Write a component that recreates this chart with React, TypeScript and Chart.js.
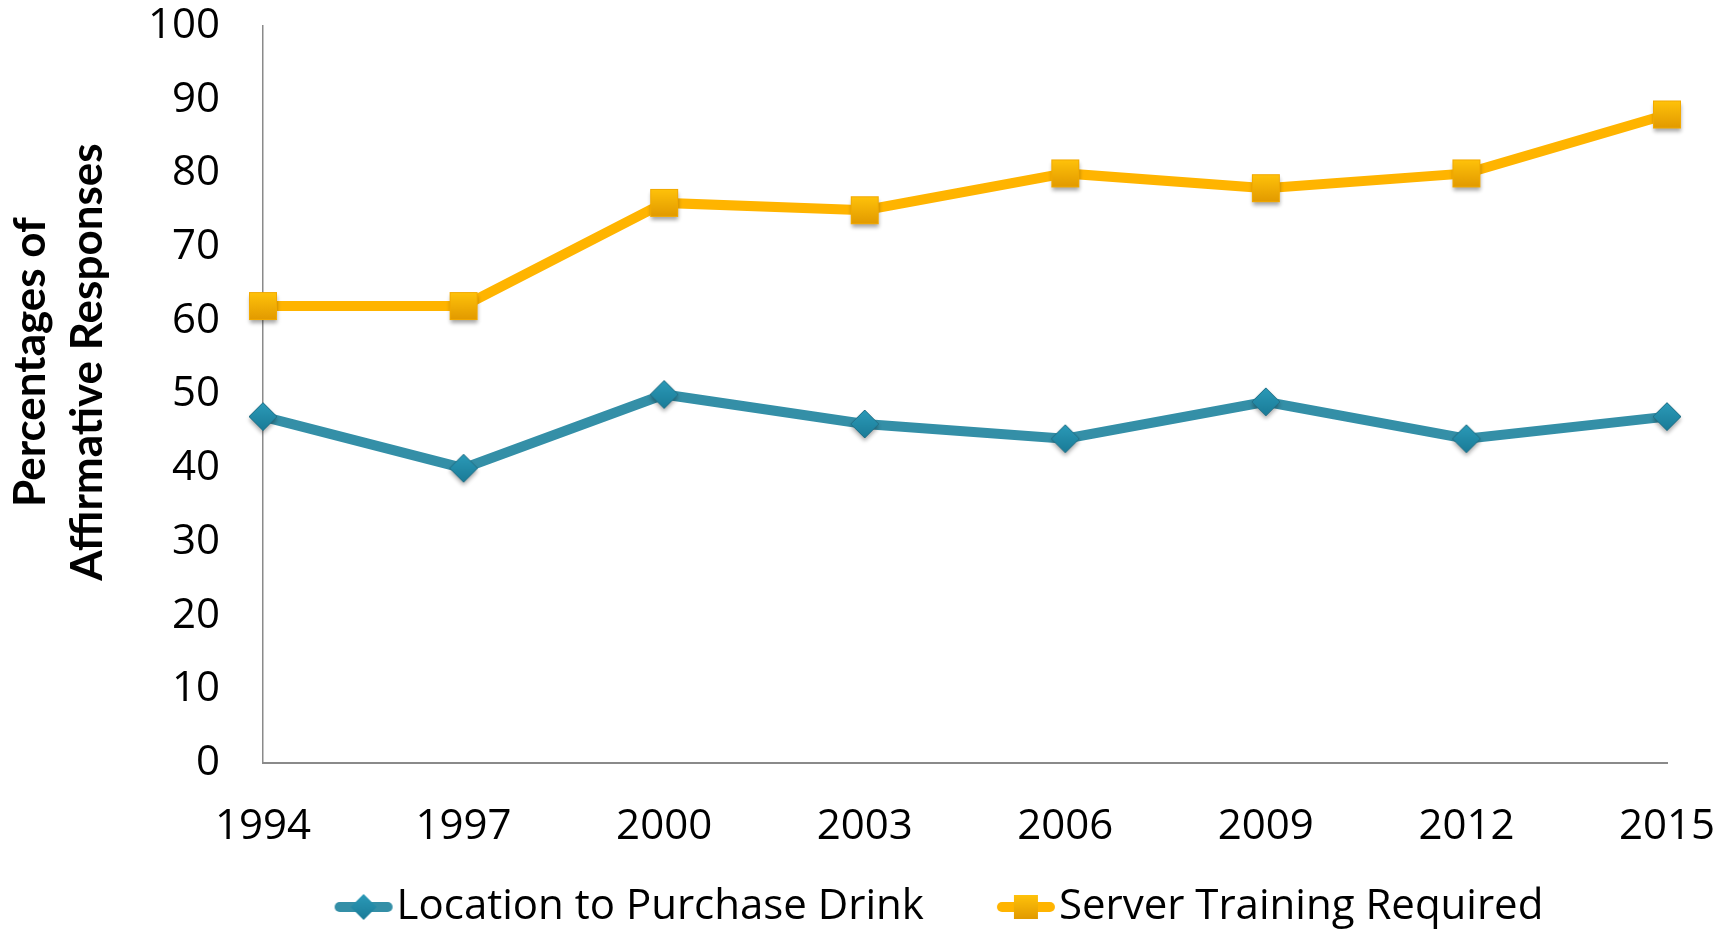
import React, { useEffect, useRef } from "react";
import { Chart, registerables } from "chart.js";

Chart.register(...registerables);

// ---- data ----
const years = ["1994", "1997", "2000", "2003", "2006", "2009", "2012", "2015"];
const locationValues = [47, 40, 50, 46, 44, 49, 44, 47];
const serverValues = [62, 62, 76, 75, 80, 78, 80, 88];
const seriesNames = ["Location to Purchase Drink", "Server Training Required"];
const yTitleLines = ["Percentages of", "Affirmative Responses"];
const yMin = 0;
const yMax = 100;
const yStep = 10;

// ---- styles ----
const FONT = "'Open Sans', Lato, sans-serif";
const TITLE_FONT = "Lato, 'Open Sans', sans-serif";
const FONT_SIZE = 42;
const BLUE_LINE = "#348fa7";
const ORANGE_LINE = "#ffb400";
const AXIS_COLOR = "#8a8a8a";
const PAD_LEFT = 139;
const PAD_RIGHT = 68;
const PAD_TOP = 26;
const PLOT_LEFT = 263;
const LEGEND_BOX = 113; // legend box width (marker image sits at its right end)
const LEGEND_PAD = 1;
const LEGEND_H = 46;
const X_AXIS_H = 122;

function diamondPath(ctx: CanvasRenderingContext2D, cx: number, cy: number, h: number) {
  ctx.beginPath();
  ctx.moveTo(cx, cy - h);
  ctx.lineTo(cx + h, cy);
  ctx.lineTo(cx, cy + h);
  ctx.lineTo(cx - h, cy);
  ctx.closePath();
}

function fillDiamond(ctx: CanvasRenderingContext2D, cx: number, cy: number, h: number) {
  const g = ctx.createLinearGradient(0, cy - h, 0, cy + h);
  g.addColorStop(0, "#2b9ab8");
  g.addColorStop(1, "#1a7b97");
  diamondPath(ctx, cx, cy, h);
  ctx.fillStyle = g;
  ctx.fill();
}

function fillSquare(ctx: CanvasRenderingContext2D, cx: number, cy: number, s: number) {
  const g = ctx.createLinearGradient(0, cy - s / 2, 0, cy + s / 2);
  g.addColorStop(0, "#ffc20a");
  g.addColorStop(1, "#e29a00");
  ctx.fillStyle = g;
  ctx.fillRect(cx - s / 2, cy - s / 2, s, s);
}

function makeDiamondMarker(): HTMLCanvasElement {
  const c = document.createElement("canvas");
  c.width = 46;
  c.height = 46;
  const ctx = c.getContext("2d")!;
  ctx.save();
  ctx.shadowColor = "rgba(0,0,0,0.35)";
  ctx.shadowBlur = 4;
  ctx.shadowOffsetY = 3;
  fillDiamond(ctx, 23, 23, 14);
  ctx.restore();
  diamondPath(ctx, 23, 23, 14);
  ctx.strokeStyle = "#216f86";
  ctx.lineWidth = 1;
  ctx.stroke();
  return c;
}

function makeSquareMarker(): HTMLCanvasElement {
  const c = document.createElement("canvas");
  c.width = 46;
  c.height = 46;
  const ctx = c.getContext("2d")!;
  ctx.save();
  ctx.shadowColor = "rgba(0,0,0,0.35)";
  ctx.shadowBlur = 4;
  ctx.shadowOffsetY = 3;
  fillSquare(ctx, 23, 23, 27);
  ctx.restore();
  ctx.strokeStyle = "#f2a900";
  ctx.lineWidth = 1;
  ctx.strokeRect(23 - 13.5, 23 - 13.5, 27, 27);
  return c;
}

// legend symbol: line + marker, placed at the right end of a wider transparent image
function makeLegendImage(kind: "diamond" | "square"): HTMLCanvasElement {
  const c = document.createElement("canvas");
  c.width = LEGEND_BOX + 36;
  c.height = 32;
  const ctx = c.getContext("2d")!;
  const x1 = c.width - 60;
  const x2 = c.width;
  ctx.beginPath();
  ctx.moveTo(x1 + 6, 16);
  ctx.lineTo(x2 - 6, 16);
  ctx.lineCap = "round";
  ctx.lineWidth = 10;
  ctx.strokeStyle = kind === "diamond" ? BLUE_LINE : ORANGE_LINE;
  ctx.stroke();
  const cx = (x1 + x2) / 2;
  if (kind === "diamond") fillDiamond(ctx, cx, 16, 13);
  else fillSquare(ctx, cx, 16, 24);
  return c;
}

const yTitlePlugin = {
  id: "yTitleCustom",
  afterDraw(chart: any) {
    const ctx: CanvasRenderingContext2D = chart.ctx;
    const area = chart.chartArea;
    const cy = area.top + (area.bottom - area.top) * 0.456;
    ctx.save();
    ctx.font = `bold 44px ${TITLE_FONT}`;
    ctx.fillStyle = "#000";
    ctx.textAlign = "center";
    ctx.textBaseline = "middle";
    const xs = [31, 88];
    yTitleLines.forEach((line, i) => {
      ctx.save();
      ctx.translate(xs[i], cy);
      ctx.rotate(-Math.PI / 2);
      ctx.fillText(line, 0, 0);
      ctx.restore();
    });
    ctx.restore();
  },
};

export default function App() {
  const ref = useRef<HTMLCanvasElement | null>(null);

  useEffect(() => {
    if (!ref.current) return;
    const diamond = makeDiamondMarker();
    const square = makeSquareMarker();
    const legendImgs = [makeLegendImage("diamond"), makeLegendImage("square")];

    const chart = new Chart(ref.current, {
      type: "line",
      data: {
        labels: years,
        datasets: [
          {
            label: seriesNames[0],
            data: locationValues,
            borderColor: BLUE_LINE,
            backgroundColor: BLUE_LINE,
            borderWidth: 10,
            pointStyle: diamond as any,
            pointRadius: 14,
            tension: 0,
            fill: false,
          },
          {
            label: seriesNames[1],
            data: serverValues,
            borderColor: ORANGE_LINE,
            backgroundColor: ORANGE_LINE,
            borderWidth: 10,
            pointStyle: square as any,
            pointRadius: 14,
            tension: 0,
            fill: false,
          },
        ],
      },
      options: {
        animation: false,
        responsive: true,
        maintainAspectRatio: false,
        layout: { padding: { left: PAD_LEFT, right: PAD_RIGHT, top: PAD_TOP, bottom: 0 } },
        scales: {
          x: {
            type: "category",
            offset: false,
            grid: {
              display: true,
              drawOnChartArea: false,
              drawTicks: true,
              tickLength: 39,
              color: "rgba(0,0,0,0)",
            },
            border: { display: true, color: AXIS_COLOR, width: 2 },
            ticks: {
              color: "#000",
              font: { family: FONT, size: FONT_SIZE },
              padding: 0,
              maxRotation: 0,
              autoSkip: false,
            },
            afterFit: (scale: any) => {
              scale.height = X_AXIS_H;
            },
          },
          y: {
            min: yMin,
            max: yMax,
            grid: {
              display: true,
              drawOnChartArea: false,
              drawTicks: true,
              tickLength: 43,
              color: "rgba(0,0,0,0)",
            },
            border: { display: true, color: AXIS_COLOR, width: 1.5 },
            ticks: {
              stepSize: yStep,
              color: "#000",
              font: { family: FONT, size: FONT_SIZE },
              padding: 0,
            },
            afterFit: (scale: any) => {
              scale.width = PLOT_LEFT - PAD_LEFT;
            },
          },
        },
        plugins: {
          tooltip: { enabled: false },
          legend: {
            display: true,
            position: "bottom",
            align: "center",
            maxHeight: LEGEND_H,
            labels: {
              usePointStyle: true,
              pointStyleWidth: LEGEND_BOX,
              padding: LEGEND_PAD,
              color: "#000",
              font: { family: FONT, size: FONT_SIZE },
              generateLabels: (ch: any) => {
                const base = Chart.defaults.plugins.legend.labels.generateLabels(ch);
                return base.map((item: any, i: number) => ({ ...item, pointStyle: legendImgs[i] }));
              },
            },
          },
        },
      },
      plugins: [yTitlePlugin],
    });
    return () => chart.destroy();
  }, []);

  return (
    <div style={{ position: "fixed", left: 0, top: 0, width: 1735, height: 931, background: "#fff" }}>
      <canvas ref={ref} />
    </div>
  );
}
